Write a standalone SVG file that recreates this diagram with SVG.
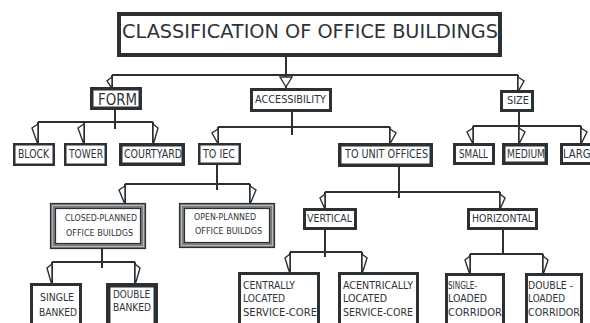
<svg xmlns="http://www.w3.org/2000/svg" width="590" height="323" viewBox="0 0 590 323">
<style>
.bg{fill:#fff}
.box{fill:#fff;stroke:#2b3035}
.t{font-family:"DejaVu Sans","Liberation Sans",sans-serif;fill:#2e3338}
.c{stroke:#2b3035;stroke-width:2;fill:none}
.a{fill:#fff;stroke:#2b3035;stroke-width:1.4;stroke-linejoin:miter}
.fo{fill:#7a7d80;stroke:#2b3035;stroke-width:1.2}
.fm{fill:none;stroke:#b5b8ba;stroke-width:1}
.fi{fill:#fff;stroke:#2b3035;stroke-width:1.2}
</style>
<rect class="bg" x="0" y="0" width="590" height="323"/>
<g id="connectors">
  <path class="c" d="M286,57V75M112,75H518M112,75V88M286,75V88M518,75V90"/>
  <path class="a" d="M112,77L107,81L111,87L112,87Z"/>
  <path class="a" d="M280,77L292,77L286,87Z"/>
  <path class="a" d="M518,77L524,81L519,90L518,90Z"/>
  <path class="c" d="M115,110V129M38,122H153M38,122V143M84,122V143M153,122V143"/>
  <path class="a" d="M38,124L32,128L37,142L38,142Z"/>
  <path class="a" d="M84,124L78,128L83,142L84,142Z"/>
  <path class="a" d="M153,124L158,128L154,142L153,142Z"/>
  <path class="c" d="M292,112V135M218,127H390M218,127V143M390,127V143"/>
  <path class="a" d="M218,129L212,133L217,142L218,142Z"/>
  <path class="a" d="M390,129L396,133L391,142L390,142Z"/>
  <path class="c" d="M519,112V126M473,126H581M473,126V143M519,126V143M581,126V143"/>
  <path class="a" d="M473,128L467,132L472,142L473,142Z"/>
  <path class="a" d="M519,128L525,132L520,142L519,142Z"/>
  <path class="a" d="M581,128L587,132L582,142L581,142Z"/>
  <path class="c" d="M217,165V190M125,184H250M125,184V203M250,184V203"/>
  <path class="a" d="M125,186L119,190L124,202L125,202Z"/>
  <path class="a" d="M250,186L256,190L251,202L250,202Z"/>
  <path class="c" d="M399,167V198M325,192H500M325,192V208M500,192V208"/>
  <path class="a" d="M325,194L320,198L324,207L325,207Z"/>
  <path class="a" d="M500,194L505,198L501,207L500,207Z"/>
  <path class="c" d="M325,230V257M290,252H362M290,252V272M362,252V272"/>
  <path class="a" d="M290,254L285,258L289,271L290,271Z"/>
  <path class="a" d="M362,254L367,258L363,271L362,271Z"/>
  <path class="c" d="M503,230V254M470,254H543M470,254V273M543,254V273"/>
  <path class="a" d="M470,256L465,260L469,272L470,272Z"/>
  <path class="a" d="M543,256L548,260L544,272L543,272Z"/>
  <path class="c" d="M102,249V268M52,262H135M52,262V283M135,262V283"/>
  <path class="a" d="M52,264L47,268L51,282L52,282Z"/>
  <path class="a" d="M135,264L140,268L136,282L135,282Z"/>
</g>
<g id="title">
  <rect class="box" x="119" y="14" width="381" height="41" stroke-width="4"/>
  <text class="t" x="122" y="38" font-size="19.5" textLength="376" lengthAdjust="spacingAndGlyphs">CLASSIFICATION OF OFFICE BUILDINGS</text>
</g>
<g id="form">
  <rect class="box" x="91.75" y="88.75" width="48.5" height="19.5" stroke-width="3.5"/>
  <text class="t" x="98" y="105" font-size="16.5" textLength="39" lengthAdjust="spacingAndGlyphs">FORM</text>
</g>
<g id="accessibility">
  <rect class="box" x="251.5" y="89.5" width="79" height="21" stroke-width="3"/>
  <text class="t" x="255" y="103" font-size="11" textLength="71" lengthAdjust="spacingAndGlyphs">ACCESSIBILITY</text>
</g>
<g id="size">
  <rect class="box" x="501.5" y="91.5" width="31" height="19" stroke-width="3"/>
  <text class="t" x="507" y="104" font-size="11" textLength="22" lengthAdjust="spacingAndGlyphs">SIZE</text>
</g>
<g id="block">
  <rect class="box" x="14.25" y="144.25" width="39.5" height="20.5" stroke-width="2.5"/>
  <text class="t" x="18" y="158" font-size="12" textLength="31" lengthAdjust="spacingAndGlyphs">BLOCK</text>
</g>
<g id="tower">
  <rect class="box" x="65.25" y="144.25" width="40.5" height="20.5" stroke-width="2.5"/>
  <text class="t" x="69" y="158" font-size="12" textLength="34" lengthAdjust="spacingAndGlyphs">TOWER</text>
</g>
<g id="courtyard">
  <rect class="box" x="120.75" y="144.75" width="62.5" height="19.5" stroke-width="3.5"/>
  <text class="t" x="124" y="158" font-size="12" textLength="58" lengthAdjust="spacingAndGlyphs">COURTYARD</text>
</g>
<g id="to-iec">
  <rect class="box" x="199.25" y="144.25" width="40.5" height="19.5" stroke-width="2.5"/>
  <text class="t" x="203" y="158" font-size="12" textLength="32" lengthAdjust="spacingAndGlyphs">TO IEC</text>
</g>
<g id="to-unit-offices">
  <rect class="box" x="339.75" y="144.75" width="91.5" height="20.5" stroke-width="3.5"/>
  <text class="t" x="345" y="158" font-size="11.5" textLength="83" lengthAdjust="spacingAndGlyphs">TO UNIT OFFICES</text>
</g>
<g id="small">
  <rect class="box" x="454.5" y="144.5" width="39" height="19" stroke-width="3"/>
  <text class="t" x="459" y="158" font-size="11.5" textLength="29" lengthAdjust="spacingAndGlyphs">SMALL</text>
</g>
<g id="medium">
  <rect class="box" x="503.75" y="144.75" width="42.5" height="18.5" stroke-width="3.5"/>
  <text class="t" x="507" y="158" font-size="11.5" textLength="38" lengthAdjust="spacingAndGlyphs">MEDIUM</text>
</g>
<g id="large">
  <rect class="box" x="561.5" y="144.5" width="40" height="19" stroke-width="3"/>
  <text class="t" x="563" y="158" font-size="11.5" textLength="34" lengthAdjust="spacingAndGlyphs">LARGE</text>
</g>
<g id="closed-planned">
  <rect class="fo" x="50.5" y="203.5" width="95" height="45"/>
  <rect class="fm" x="52.5" y="205.5" width="91" height="41"/>
  <rect class="fi" x="55.5" y="208.5" width="85" height="35"/>
  <text class="t" x="65" y="221" font-size="9.5" textLength="72" lengthAdjust="spacingAndGlyphs">CLOSED-PLANNED</text>
  <text class="t" x="66" y="236" font-size="9.5" textLength="67" lengthAdjust="spacingAndGlyphs">OFFICE BUILDGS</text>
</g>
<g id="open-planned">
  <rect class="fo" x="179.5" y="203.5" width="95" height="44"/>
  <rect class="fm" x="181.5" y="205.5" width="91" height="40"/>
  <rect class="fi" x="184.5" y="208.5" width="85" height="34"/>
  <text class="t" x="194" y="220" font-size="9.5" textLength="62" lengthAdjust="spacingAndGlyphs">OPEN-PLANNED</text>
  <text class="t" x="195" y="234" font-size="9.5" textLength="67" lengthAdjust="spacingAndGlyphs">OFFICE BUILDGS</text>
</g>
<g id="vertical">
  <rect class="box" x="304.5" y="209.5" width="51" height="19" stroke-width="3"/>
  <text class="t" x="307" y="222" font-size="11" textLength="45" lengthAdjust="spacingAndGlyphs">VERTICAL</text>
</g>
<g id="horizontal">
  <rect class="box" x="468.5" y="209.5" width="68" height="19" stroke-width="3"/>
  <text class="t" x="472" y="222" font-size="11" textLength="61" lengthAdjust="spacingAndGlyphs">HORIZONTAL</text>
</g>
<g id="single-banked">
  <rect class="box" x="31.5" y="284.5" width="49" height="50" stroke-width="3"/>
  <text class="t" x="40" y="301" font-size="10.5" textLength="34" lengthAdjust="spacingAndGlyphs">SINGLE</text>
  <text class="t" x="39" y="316" font-size="10.5" textLength="38" lengthAdjust="spacingAndGlyphs">BANKED</text>
</g>
<g id="double-banked">
  <rect class="box" x="108.25" y="285.25" width="47.5" height="50" stroke-width="4.5"/>
  <text class="t" x="113" y="298" font-size="10.5" textLength="37" lengthAdjust="spacingAndGlyphs">DOUBLE</text>
  <text class="t" x="113" y="311" font-size="10.5" textLength="38" lengthAdjust="spacingAndGlyphs">BANKED</text>
</g>
<g id="centrally-located">
  <rect class="box" x="239.5" y="273.5" width="79" height="60" stroke-width="3"/>
  <text class="t" x="243" y="289" font-size="10.5" textLength="52" lengthAdjust="spacingAndGlyphs">CENTRALLY</text>
  <text class="t" x="243" y="302" font-size="10.5" textLength="42" lengthAdjust="spacingAndGlyphs">LOCATED</text>
  <text class="t" x="243" y="316" font-size="10.5" textLength="74" lengthAdjust="spacingAndGlyphs">SERVICE-CORE</text>
</g>
<g id="acentrically-located">
  <rect class="box" x="339.5" y="273.5" width="78" height="60" stroke-width="3"/>
  <text class="t" x="343" y="289" font-size="10.5" textLength="70" lengthAdjust="spacingAndGlyphs">ACENTRICALLY</text>
  <text class="t" x="343" y="302" font-size="10.5" textLength="44" lengthAdjust="spacingAndGlyphs">LOCATED</text>
  <text class="t" x="343" y="316" font-size="10.5" textLength="70" lengthAdjust="spacingAndGlyphs">SERVICE-CORE</text>
</g>
<g id="single-loaded">
  <rect class="box" x="446.5" y="274.5" width="57" height="60" stroke-width="3"/>
  <text class="t" x="448" y="289" font-size="10.5" textLength="29" lengthAdjust="spacingAndGlyphs">SINGLE-</text>
  <text class="t" x="448" y="302" font-size="10.5" textLength="39" lengthAdjust="spacingAndGlyphs">LOADED</text>
  <text class="t" x="448" y="316" font-size="10.5" textLength="54" lengthAdjust="spacingAndGlyphs">CORRIDOR</text>
</g>
<g id="double-loaded">
  <rect class="box" x="526.5" y="274.5" width="55" height="60" stroke-width="3"/>
  <text class="t" x="528" y="289" font-size="10.5" textLength="45" lengthAdjust="spacingAndGlyphs">DOUBLE -</text>
  <text class="t" x="528" y="302" font-size="10.5" textLength="37" lengthAdjust="spacingAndGlyphs">LOADED</text>
  <text class="t" x="528" y="316" font-size="10.5" textLength="52" lengthAdjust="spacingAndGlyphs">CORRIDOR</text>
</g>
</svg>
